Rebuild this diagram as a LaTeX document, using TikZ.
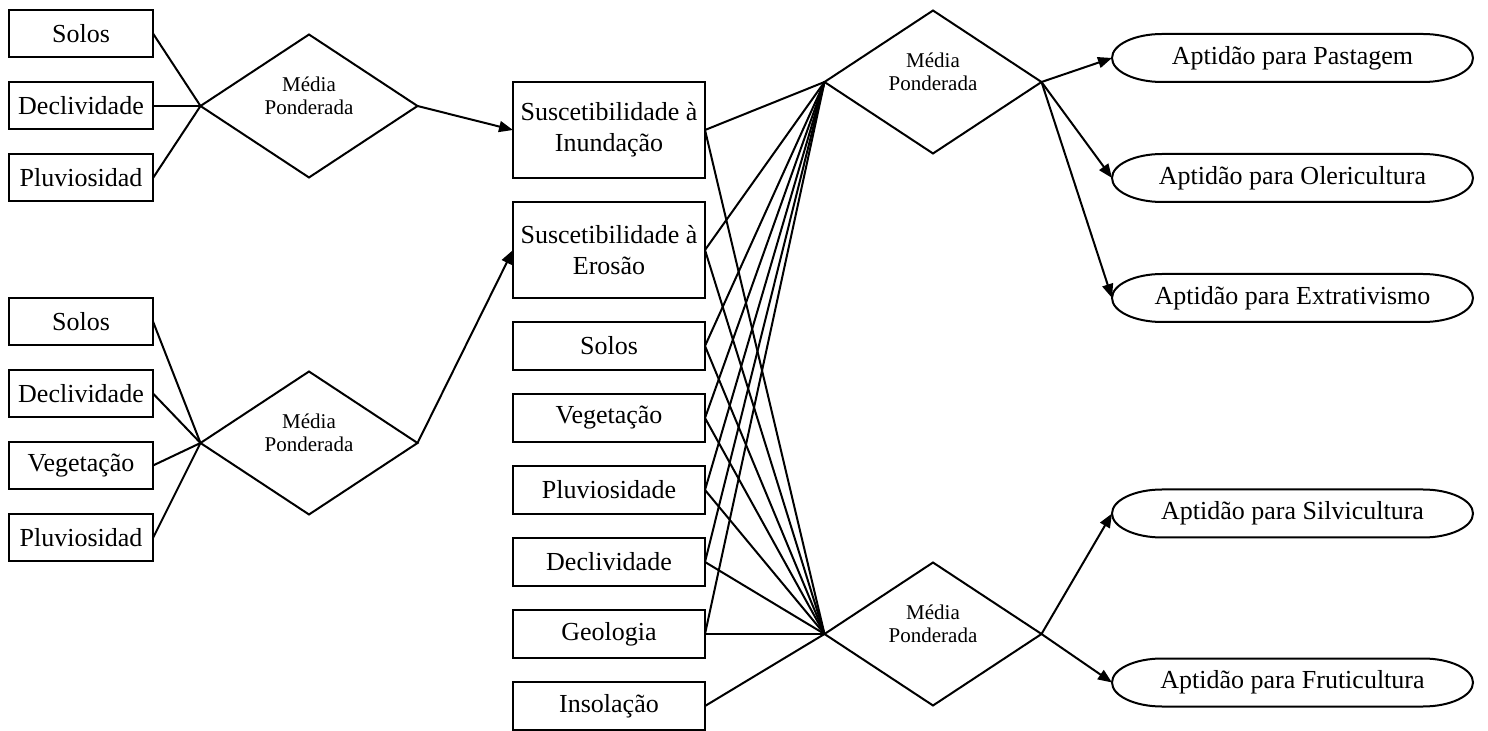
\documentclass[tikz,border=0pt]{standalone}
\usepackage{fontspec}
\setmainfont{Liberation Serif}
\usetikzlibrary{shapes.geometric,arrows.meta}
\begin{document}
\begin{tikzpicture}[x=0.5pt,y=-0.5pt,
  every node/.style={font=\fontsize{13}{15.5}\selectfont},
  lbox/.style={draw,line width=1pt,minimum width=72pt,minimum height=23.5pt,inner sep=0pt,outer sep=0pt},
  mbox/.style={draw,line width=1pt,minimum width=96pt,minimum height=24pt,inner sep=0pt,outer sep=0pt,align=center},
  mboxtwo/.style={mbox,minimum height=48pt},
  dia/.style={draw,diamond,line width=1pt,minimum width=108.5pt,minimum height=71.5pt,inner sep=0pt,outer sep=0pt},
  dlabel/.style={font=\fontsize{10.5}{11.5}\selectfont,align=center,inner sep=0pt},
  oval/.style={minimum width=180.5pt,minimum height=24pt,inner sep=0pt,outer sep=0pt},
  conn/.style={line width=1pt},
  arr/.style={line width=1pt,-{Triangle[length=7pt,width=5.5pt]}}
]
\useasboundingbox (0,0) rectangle (1488,731);

% left top group
\node[lbox] (ls1) at (81,33.5) {Solos};
\node[lbox] (ld1) at (81,106) {Declividade};
\node[lbox] (lp1) at (81,178) {Pluviosidad};
% left bottom group
\node[lbox] (ls2) at (81,321.5) {Solos};
\node[lbox] (ld2) at (81,393.5) {Declividade};
\node[lbox] (lv2) at (81,465.5) {Vegetação};
\node[lbox] (lp2) at (81,538) {Pluviosidad};

% diamonds
\node[dia] (d1) at (309,106) {};
\node[dia] (d2) at (309,443) {};
\node[dia] (d3) at (933,82) {};
\node[dia] (d4) at (933,634) {};
\foreach \d in {d1,d2,d3,d4}
  \node[dlabel] at ([yshift=5pt]\d.center) {Média\\Ponderada};

% middle column
\node[mboxtwo] (mi) at (609,130) {Suscetibilidade à\\Inundação};
\node[mboxtwo] (me) at (609,250) {Suscetibilidade à\\Erosão};
\node[mbox] (ms) at (609,346) {Solos};
\node[mbox] (mv) at (609,418) {Vegetação};
\node[mbox] (mp) at (609,490) {Pluviosidade};
\node[mbox] (md) at (609,562) {Declividade};
\node[mbox] (mg) at (609,634) {Geologia};
\node[mbox] (mn) at (609,706) {Insolação};

% outputs
\node[oval] (p1) at (1292.5,58) {Aptidão para Pastagem};
\node[oval] (p2) at (1292.5,178) {Aptidão para Olericultura};
\node[oval] (p3) at (1292.5,298) {Aptidão para Extrativismo};
\node[oval] (p4) at (1292.5,513.5) {Aptidão para Silvicultura};
\node[oval] (p5) at (1292.5,682.5) {Aptidão para Fruticultura};
\foreach \n in {p1,p2,p3,p4,p5}
  \draw[line width=1pt] ([xshift=25pt]\n.north west) -- ([xshift=-25pt]\n.north east)
    arc[start angle=90,end angle=-90,x radius=25pt,y radius=12pt]
    -- ([xshift=25pt]\n.south west)
    arc[start angle=270,end angle=90,x radius=25pt,y radius=12pt] -- cycle;

% connectors
\foreach \s in {ls1,ld1,lp1} \draw[conn] (\s.east) -- (d1.west);
\foreach \s in {ls2,ld2,lv2,lp2} \draw[conn] (\s.east) -- (d2.west);
\draw[arr] (d1.east) -- (mi.west);
\draw[arr] (d2.east) -- (me.west);
\foreach \s in {mi,me,ms,mv,mp,md,mg} \draw[conn] (\s.east) -- (d3.west);
\foreach \s in {mi,me,ms,mv,mp,md,mg,mn} \draw[conn] (\s.east) -- (d4.west);
\draw[arr] (d3.east) -- (p1.west);
\draw[arr] (d3.east) -- (p2.west);
\draw[arr] (d3.east) -- (p3.west);
\draw[arr] (d4.east) -- (p4.west);
\draw[arr] (d4.east) -- (p5.west);
\end{tikzpicture}
\end{document}
